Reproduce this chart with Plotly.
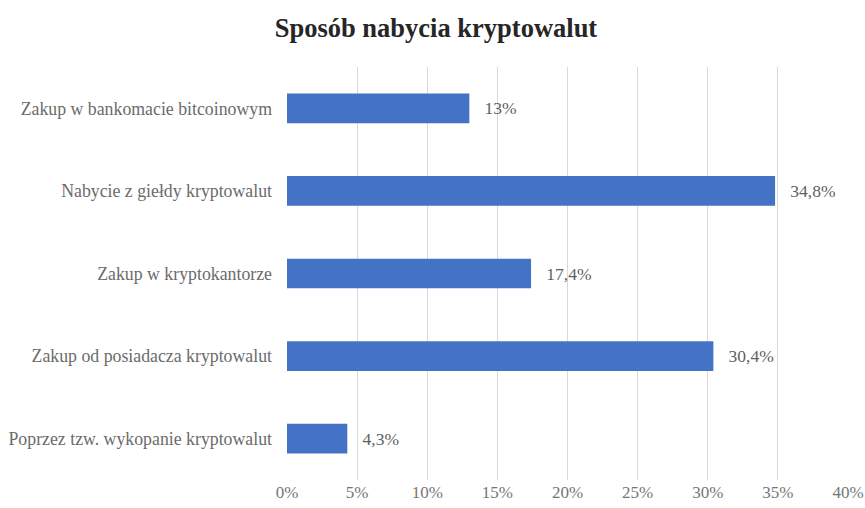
import plotly.graph_objects as go

categories = [
    "Zakup w bankomacie bitcoinowym",
    "Nabycie z giełdy kryptowalut",
    "Zakup w kryptokantorze",
    "Zakup od posiadacza kryptowalut",
    "Poprzez tzw. wykopanie kryptowalut",
]
values = [13, 34.8, 17.4, 30.4, 4.3]
tick_vals = [0, 5, 10, 15, 20, 25, 30, 35, 40]
tick_text = [f"{v}%" for v in tick_vals]


def fmt(v):
    s = f"{v:g}".replace(".", ",")
    return "\u00a0\u00a0\u2009" + s + "%"


labels = [fmt(v) for v in values]

font_family = "Liberation Serif"

fig = go.Figure(
    go.Bar(
        y=categories,
        x=values,
        orientation="h",
        marker=dict(color="#4472C4", line=dict(width=0)),
        width=0.36,
        text=labels,
        textposition="outside",
        textfont=dict(family=font_family, size=17.5, color="#5f5f5f"),
        cliponaxis=False,
        hoverinfo="skip",
    )
)

fig.update_layout(
    width=865,
    height=508,
    paper_bgcolor="white",
    plot_bgcolor="white",
    margin=dict(l=287, r=17, t=67, b=28, autoexpand=False),
    title=dict(
        text="<b>Sposób nabycia kryptowalut</b>",
        x=0.504,
        xref="container",
        y=0.945,
        yref="container",
        xanchor="center",
        yanchor="middle",
        font=dict(family=font_family, size=26.5, color="#262626"),
    ),
    font=dict(family=font_family, size=17, color="#6b6b6b"),
    showlegend=False,
)

fig.update_xaxes(
    range=[0, 40],
    tickvals=tick_vals,
    ticktext=tick_text,
    showgrid=True,
    gridcolor="#d9d9d9",
    gridwidth=1,
    zeroline=False,
    showline=False,
    ticks="",
    tickfont=dict(family=font_family, size=17, color="#767676"),
    fixedrange=True,
)

fig.update_yaxes(
    categoryorder="array",
    categoryarray=categories[::-1],
    showgrid=False,
    zeroline=False,
    showline=False,
    ticks="",
    ticklabelstandoff=14,
    tickfont=dict(family=font_family, size=17.8, color="#6b6b6b"),
    fixedrange=True,
)

fig.write_html(
    "out.html",
    config={"displayModeBar": False},
    post_script="document.body.style.margin='0';document.body.style.padding='0';",
)
